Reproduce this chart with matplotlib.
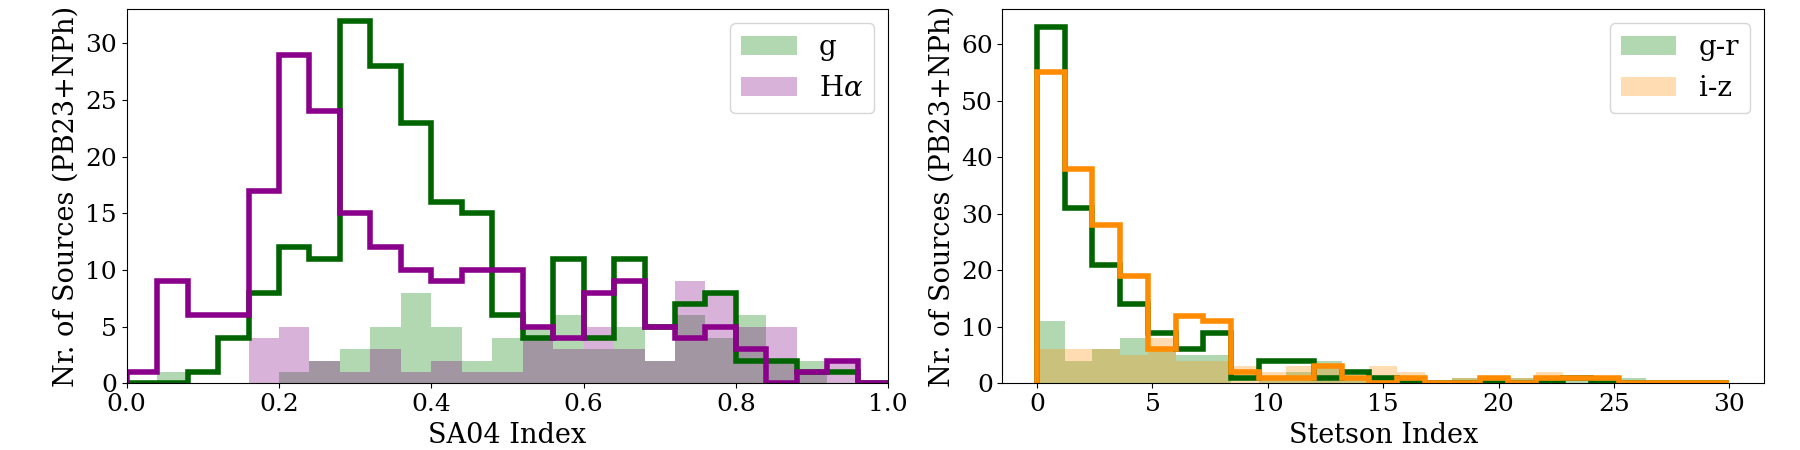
import numpy as np
import matplotlib
matplotlib.use("Agg")
from matplotlib import pyplot as plt

plt.rcParams['font.family'] = 'DejaVu Serif'
plt.rcParams['mathtext.fontset'] = 'dejavuserif'

# SA04 index histograms (25 bins between 0 and 1)
sa04_edges = np.linspace(0, 1, 26)
sa04_g_fill = [0, 1, 0, 0, 0, 1, 2, 3, 5, 8, 5, 2, 4, 5, 6, 3, 5, 2, 6, 4, 6, 2, 2, 0, 0]
sa04_ha_fill = [0, 0, 0, 0, 4, 5, 2, 1, 3, 1, 2, 1, 1, 4, 3, 5, 3, 2, 9, 8, 5, 5, 1, 2, 0]
sa04_g_step = [0, 0, 1, 4, 8, 12, 11, 32, 28, 23, 16, 15, 6, 4, 11, 4, 11, 5, 7, 8, 2, 2, 1, 1, 0]
sa04_ha_step = [1, 9, 6, 6, 17, 29, 24, 15, 12, 10, 9, 10, 10, 5, 4, 8, 9, 5, 4, 5, 3, 0, 1, 2, 0]

# Stetson index histograms (25 bins between 0 and 30)
stet_edges = np.linspace(0, 30, 26)
stet_gr_fill = [11, 4, 6, 8, 6, 5, 5, 0, 1, 2, 4, 1, 1, 0, 0, 1, 0, 1, 0, 1, 0, 1, 0, 0, 0]
stet_iz_fill = [6, 6, 6, 5, 8, 4, 4, 3, 2, 3, 3, 1, 3, 2, 0, 1, 0, 1, 2, 0, 0, 0, 0, 0, 0]
stet_gr_step = [63, 31, 21, 14, 9, 6, 9, 1, 4, 4, 1, 2, 1, 0, 0, 0, 0, 0, 0, 1, 0, 0, 0, 0, 0]
stet_iz_step = [55, 38, 28, 19, 6, 12, 11, 2, 1, 1, 3, 1, 0, 1, 0, 0, 1, 0, 1, 1, 1, 0, 0, 0, 0]

fig, (ax1, ax2) = plt.subplots(1, 2, figsize=(18, 4.5), dpi=100)
plt.subplots_adjust(left=0.0704, right=0.98, bottom=0.148, top=0.979, wspace=0.15)

# --- SA04 ---
ax1.stairs(sa04_g_fill, sa04_edges, fill=True, color='green', alpha=0.3, label='g')
ax1.stairs(sa04_ha_fill, sa04_edges, fill=True, color='purple', alpha=0.3, label=r'H$\alpha$')
ax1.stairs(sa04_g_step, sa04_edges, color='darkgreen', linewidth=4)
ax1.stairs(sa04_ha_step, sa04_edges, color='darkmagenta', linewidth=4)
ax1.set_xlim(0, 1)
ax1.set_ylim(0, 33)
ax1.set_xlabel("SA04 Index", fontsize=19.5)
ax1.set_ylabel("Nr. of Sources (PB23+NPh)", fontsize=19.5)
ax1.tick_params(labelsize=18)
ax1.legend(loc='upper right', fontsize=20)

# --- Stetson ---
ax2.stairs(stet_gr_fill, stet_edges, fill=True, color='green', alpha=0.3, label='g-r')
ax2.stairs(stet_iz_fill, stet_edges, fill=True, color='darkorange', alpha=0.3, label='i-z')
ax2.stairs(stet_gr_step, stet_edges, color='darkgreen', linewidth=4)
ax2.stairs(stet_iz_step, stet_edges, color='darkorange', linewidth=4)
ax2.set_xlim(-1.5, 31.5)
ax2.set_ylim(0, 66.15)
ax2.set_xlabel("Stetson Index", fontsize=19.5)
ax2.set_ylabel("Nr. of Sources (PB23+NPh)", fontsize=19.5)
ax2.tick_params(labelsize=18)
ax2.legend(loc='upper right', fontsize=20)

plt.savefig("out.png")
plt.close()
